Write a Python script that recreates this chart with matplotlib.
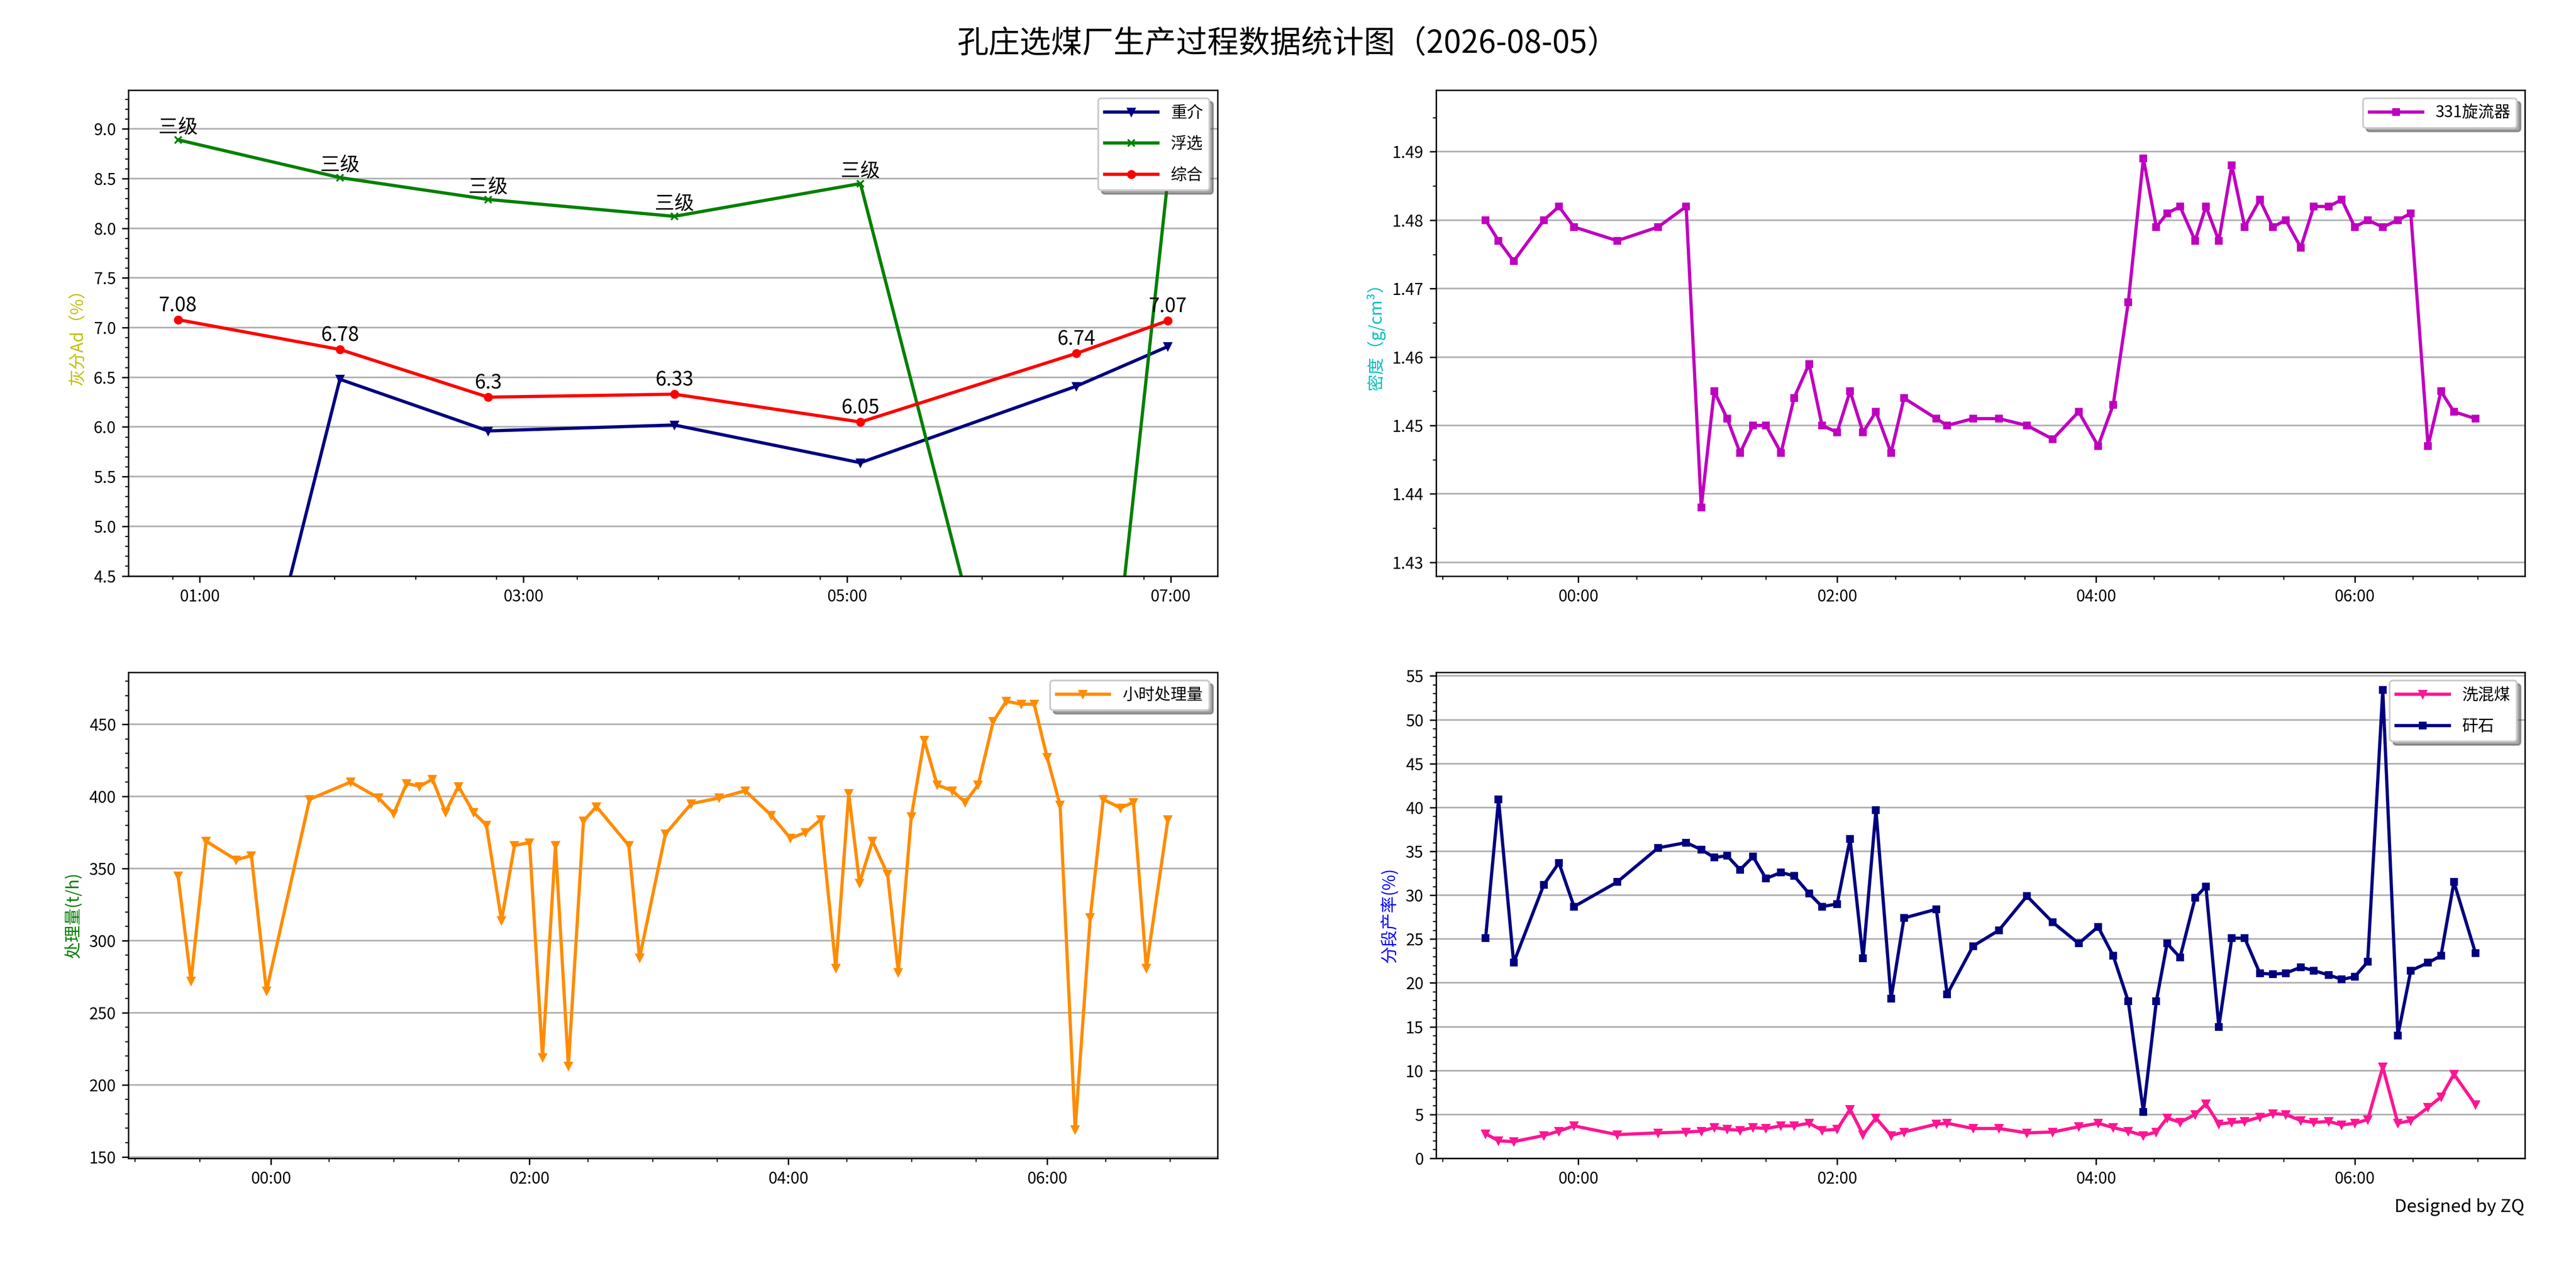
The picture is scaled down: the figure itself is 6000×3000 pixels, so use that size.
import numpy as np
import pandas as pd
import matplotlib
matplotlib.use('Agg')
import matplotlib.pyplot as plt
import matplotlib.dates as mdates
from matplotlib.ticker import MultipleLocator, FixedLocator

plt.rcParams['font.family'] = ['Noto Sans CJK SC', 'DejaVu Sans']
plt.rcParams['axes.unicode_minus'] = False

# ---------------- data ----------------
DATE = '2026-08-05'
TITLE = '孔庄选煤厂生产过程数据统计图（2026-08-05）'

# ash panel (top-left)
ash_times = ['00:52', '01:52', '02:47', '03:56', '05:05', '06:25', '06:59']
ash_zhongjie = [0.0, 6.48, 5.96, 6.02, 5.64, 6.41, 6.81]
ash_fuxuan = [8.89, 8.51, 8.29, 8.12, 8.45, 0.0, 8.50]
ash_zonghe = [7.08, 6.78, 6.30, 6.33, 6.05, 6.74, 7.07]
fuxuan_grade = ['三级', '三级', '三级', '三级', '三级', '', '']

# shared timeline for the other three panels
times = ['23:17', '23:23', '23:30', '23:44', '23:51', '23:58', '00:18', '00:37', '00:50', '00:57',
         '01:03', '01:09', '01:15', '01:21', '01:27', '01:34', '01:40', '01:47', '01:53', '02:00',
         '02:06', '02:12', '02:18', '02:25', '02:31', '02:46', '02:51', '03:03', '03:15', '03:28',
         '03:40', '03:52', '04:01', '04:08', '04:15', '04:22', '04:28', '04:33', '04:39', '04:46',
         '04:51', '04:57', '05:03', '05:09', '05:16', '05:22', '05:28', '05:35', '05:41', '05:48',
         '05:54', '06:00', '06:06', '06:13', '06:20', '06:26', '06:34', '06:40', '06:46', '06:56']

density_331 = [1.480, 1.477, 1.474, 1.480, 1.482, 1.479, 1.477, 1.479, 1.482, 1.438,
               1.455, 1.451, 1.446, 1.450, 1.450, 1.446, 1.454, 1.459, 1.450, 1.449,
               1.455, 1.449, 1.452, 1.446, 1.454, 1.451, 1.450, 1.451, 1.451, 1.450,
               1.448, 1.452, 1.447, 1.453, 1.468, 1.489, 1.479, 1.481, 1.482, 1.477,
               1.482, 1.477, 1.488, 1.479, 1.483, 1.479, 1.480, 1.476, 1.482, 1.482,
               1.483, 1.479, 1.480, 1.479, 1.480, 1.481, 1.447, 1.455, 1.452, 1.451]

throughput = [345, 272, 369, 356, 359, 265, 398, 410, 399, 388,
              409, 407, 412, 389, 407, 389, 380, 314, 366, 368,
              219, 366, 213, 383, 393, 366, 288, 374, 395, 399,
              404, 387, 371, 375, 384, 281, 402, 340, 369, 346,
              278, 386, 439, 408, 404, 396, 408, 452, 466, 464,
              464, 427, 394, 169, 316, 398, 392, 396, 281, 384]

xihunmei = [2.8, 2.0, 1.9, 2.6, 3.1, 3.7, 2.7, 2.9, 3.0, 3.1,
            3.5, 3.3, 3.2, 3.5, 3.4, 3.7, 3.7, 4.0, 3.2, 3.3,
            5.6, 2.7, 4.6, 2.6, 3.0, 3.9, 4.0, 3.4, 3.4, 2.9,
            3.0, 3.6, 4.0, 3.5, 3.1, 2.6, 3.0, 4.6, 4.1, 5.0,
            6.2, 3.9, 4.1, 4.2, 4.7, 5.1, 5.0, 4.3, 4.1, 4.2,
            3.8, 4.0, 4.4, 10.4, 4.0, 4.3, 5.8, 7.0, 9.6, 6.1]

ganshi = [25.1, 40.9, 22.3, 31.2, 33.7, 28.7, 31.5, 35.4, 36.0, 35.2,
          34.3, 34.5, 32.9, 34.4, 31.9, 32.6, 32.2, 30.2, 28.7, 29.0,
          36.4, 22.8, 39.7, 18.2, 27.4, 28.4, 18.7, 24.2, 26.0, 29.9,
          26.9, 24.5, 26.4, 23.1, 17.9, 5.3, 17.9, 24.5, 22.9, 29.7,
          31.0, 15.0, 25.1, 25.1, 21.1, 21.0, 21.1, 21.8, 21.4, 20.9,
          20.4, 20.7, 22.4, 53.4, 14.0, 21.4, 22.3, 23.1, 31.5, 23.4]

minor_times_main = ['22:57', '23:27', '00:27', '00:57', '01:27', '02:27', '02:57',
                    '03:27', '04:27', '04:57', '05:27', '06:27', '06:57']


def to_dt(hhmm):
    day = pd.Timestamp(DATE)
    out = []
    for s in hhmm:
        h, m = map(int, s.split(':'))
        d = day - pd.Timedelta(days=1) if h >= 12 else day
        out.append((d + pd.Timedelta(hours=h, minutes=m)).to_pydatetime())
    return out


t_ash = to_dt(ash_times)
t_main = to_dt(times)
t_minor = mdates.date2num(to_dt(minor_times_main))

# ---------------- figure ----------------
fig = plt.figure(figsize=(20, 10), dpi=300)
L0, L1 = 0.0499, 0.5575
W = 0.4227
B_top, B_bot = 0.5528, 0.1007
H = 0.3772
ax1 = fig.add_axes([L0, B_top, W, H])
ax2 = fig.add_axes([L1, B_top, W, H])
ax3 = fig.add_axes([L0, B_bot, W, H])
ax4 = fig.add_axes([L1, B_bot, W, H])

LW = 1.8
MS = 4
TICK_FS = 9
LAB_FS = 9.5
LEG_FS = 9


def style(ax):
    ax.grid(axis='y', color='#b0b0b0', linewidth=0.9)
    ax.set_axisbelow(True)
    ax.tick_params(axis='both', which='major', labelsize=TICK_FS)
    ax.xaxis.set_major_formatter(mdates.DateFormatter('%H:%M'))


def legend(ax):
    ax.legend(loc='upper right', fontsize=LEG_FS, shadow=True, fancybox=True,
              framealpha=1, edgecolor='0.8', handlelength=3.3, labelspacing=0.9)


# top-left: ash
ax1.plot(t_ash, ash_zhongjie, color='navy', marker='v', lw=LW, ms=MS, label='重介')
ax1.plot(t_ash, ash_fuxuan, color='g', marker='x', lw=LW, ms=MS, label='浮选')
ax1.plot(t_ash, ash_zonghe, color='r', marker='o', lw=LW, ms=MS, label='综合')
for t, v in zip(t_ash, ash_zonghe):
    ax1.annotate(f'{v:g}', (t, v), xytext=(0, 2), textcoords='offset points',
                 ha='center', va='bottom', fontsize=11)
for t, v, g in zip(t_ash, ash_fuxuan, fuxuan_grade):
    if g:
        ax1.annotate(g, (t, v), xytext=(0, 1), textcoords='offset points',
                     ha='center', va='bottom', fontsize=11)
ax1.set_ylim(4.5, max(ash_fuxuan) + 0.5)
ax1.yaxis.set_major_locator(MultipleLocator(0.5))
ax1.yaxis.set_minor_locator(MultipleLocator(0.1))
ax1.xaxis.set_major_locator(mdates.HourLocator(byhour=[1, 3, 5, 7]))
ax1.xaxis.set_minor_locator(mdates.MinuteLocator(byminute=[20, 50]))
ax1.set_ylabel('灰分Ad（%）', color='y', fontsize=LAB_FS)
style(ax1)
legend(ax1)

# top-right: density
ax2.plot(t_main, density_331, color='m', marker='s', lw=LW, ms=MS - 0.5, label='331旋流器')
ax2.set_ylim(min(density_331) - 0.01, max(density_331) + 0.01)
ax2.yaxis.set_major_locator(MultipleLocator(0.01))
ax2.yaxis.set_minor_locator(MultipleLocator(0.005))
ax2.xaxis.set_major_locator(mdates.HourLocator(byhour=[0, 2, 4, 6]))
ax2.xaxis.set_minor_locator(FixedLocator(t_minor))
ax2.set_ylabel('密度（g/cm³）', color='c', fontsize=LAB_FS)
style(ax2)
legend(ax2)

# bottom-left: throughput
ax3.plot(t_main, throughput, color='darkorange', marker='v', lw=LW, ms=MS, label='小时处理量')
ax3.set_ylim(min(throughput) - 20, max(throughput) + 20)
ax3.yaxis.set_major_locator(MultipleLocator(50))
ax3.yaxis.set_minor_locator(MultipleLocator(10))
ax3.xaxis.set_major_locator(mdates.HourLocator(byhour=[0, 2, 4, 6]))
ax3.xaxis.set_minor_locator(FixedLocator(t_minor))
ax3.set_ylabel('处理量(t/h)', color='g', fontsize=LAB_FS)
style(ax3)
legend(ax3)

# bottom-right: yields
ax4.plot(t_main, xihunmei, color='deeppink', marker='v', lw=LW, ms=MS, label='洗混煤')
ax4.plot(t_main, ganshi, color='navy', marker='s', lw=LW, ms=MS - 0.5, label='矸石')
ax4.set_ylim(0, max(ganshi) + 2)
ax4.yaxis.set_major_locator(MultipleLocator(5))
ax4.yaxis.set_minor_locator(MultipleLocator(1))
ax4.xaxis.set_major_locator(mdates.HourLocator(byhour=[0, 2, 4, 6]))
ax4.xaxis.set_minor_locator(FixedLocator(t_minor))
ax4.set_ylabel('分段产率(%)', color='b', fontsize=LAB_FS)
style(ax4)
legend(ax4)

fig.suptitle(TITLE, fontsize=17.5, y=0.966, va='center')
fig.text(0.980, 0.063, 'Designed by ZQ', ha='right', va='center', fontsize=10)

fig.savefig('out.png', dpi=300)
